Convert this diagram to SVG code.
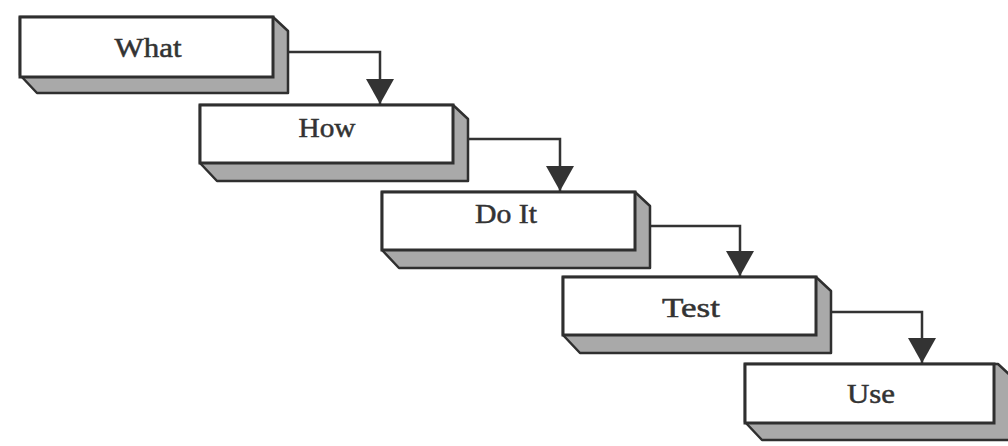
<svg xmlns="http://www.w3.org/2000/svg" width="1008" height="446" viewBox="0 0 1008 446">
  <style>
    .side { fill: #a9a9a9; stroke: #2f2f2f; stroke-width: 2.5; stroke-linejoin: round; }
    .front { fill: #ffffff; stroke: #2f2f2f; stroke-width: 3; }
    .label { font-family: "Liberation Serif", "Times New Roman", serif; font-size: 28px; fill: #333333; stroke: #333333; stroke-width: 0.5; text-anchor: middle; }
    .conn { fill: none; stroke: #333333; stroke-width: 2.5; }
  </style>
  <defs>
    <marker id="arrow" markerUnits="userSpaceOnUse" markerWidth="28" markerHeight="28" refX="25" refY="14" orient="auto" viewBox="0 0 28 28">
      <path d="M0,0 L25,14 L0,28 Z" fill="#333333"/>
    </marker>
    <path id="box-body" d="M0,0 H253 L268,14 V76 H17 L0,58 Z"/>
  </defs>
  <rect width="1008" height="446" fill="#ffffff"/>

  <g id="connectors">
    <path class="conn" d="M288,52 H380 V104" marker-end="url(#arrow)"/>
    <path class="conn" d="M468,139 H560 V191" marker-end="url(#arrow)"/>
    <path class="conn" d="M650,226 H740 V276" marker-end="url(#arrow)"/>
    <path class="conn" d="M831,312 H922 V363" marker-end="url(#arrow)"/>
  </g>

  <g id="node-what" transform="translate(20,17)">
    <use href="#box-body" class="side"/>
    <rect class="front" x="0" y="0" width="253" height="60"/>
    <text class="label" x="128" y="40" textLength="67" lengthAdjust="spacingAndGlyphs">What</text>
  </g>
  <g id="node-how" transform="translate(200,105)">
    <use href="#box-body" class="side"/>
    <rect class="front" x="0" y="0" width="253" height="58"/>
    <text class="label" x="127" y="32" textLength="57" lengthAdjust="spacingAndGlyphs">How</text>
  </g>
  <g id="node-doit" transform="translate(382,192)">
    <use href="#box-body" class="side"/>
    <rect class="front" x="0" y="0" width="253" height="58"/>
    <text class="label" x="124" y="31" textLength="62" lengthAdjust="spacingAndGlyphs">Do It</text>
  </g>
  <g id="node-test" transform="translate(563,277)">
    <use href="#box-body" class="side"/>
    <rect class="front" x="0" y="0" width="253" height="58"/>
    <text class="label" x="128" y="40" textLength="58" lengthAdjust="spacingAndGlyphs">Test</text>
  </g>
  <g id="node-use" transform="translate(745,364)">
    <use href="#box-body" class="side"/>
    <rect class="front" x="0" y="0" width="249" height="59"/>
    <text class="label" x="126" y="39" textLength="48" lengthAdjust="spacingAndGlyphs">Use</text>
  </g>
</svg>
